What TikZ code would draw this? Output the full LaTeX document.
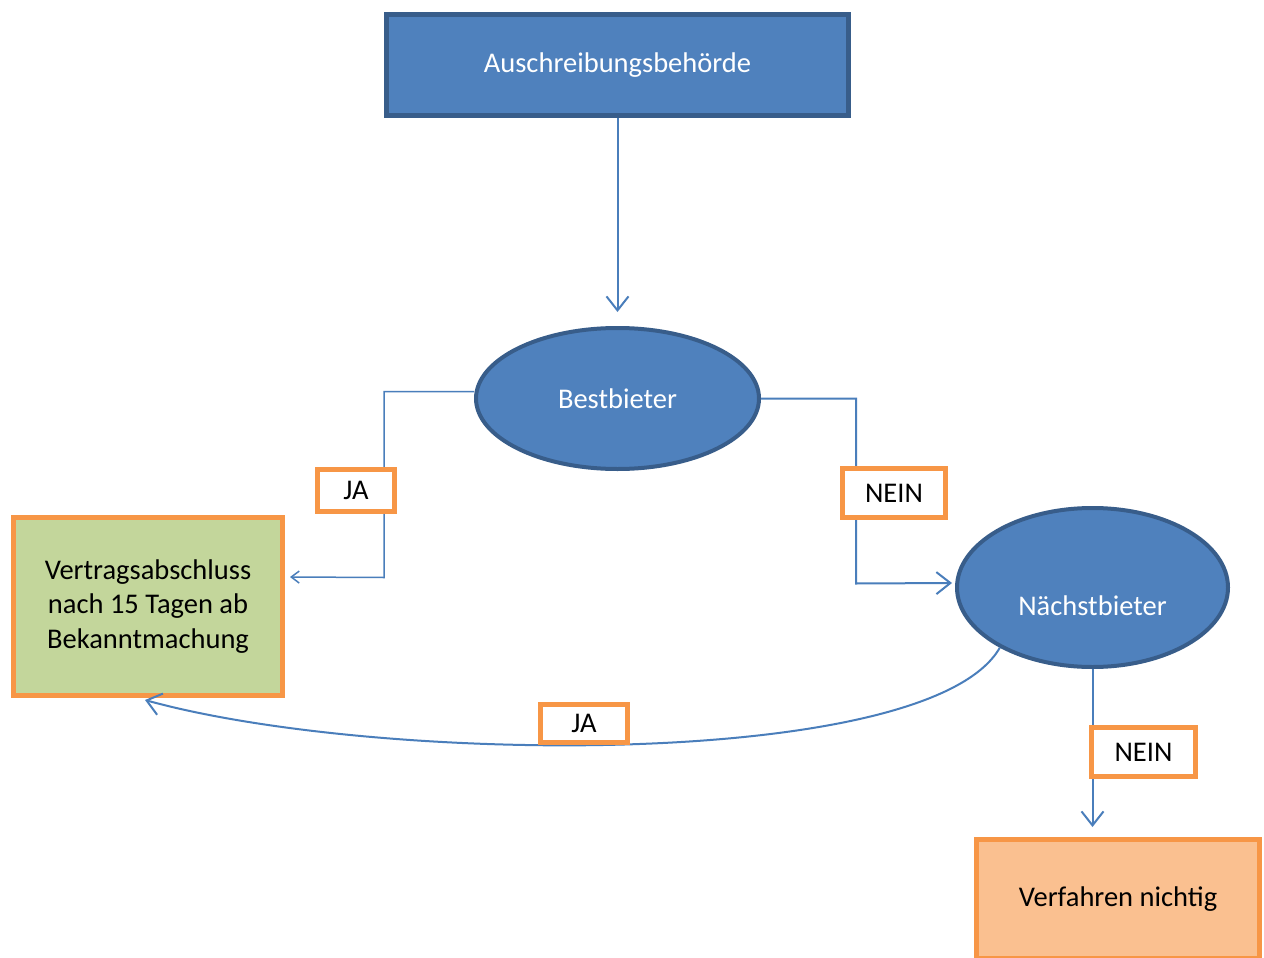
\documentclass[tikz,border=0pt]{standalone}
\usepackage{fontspec}
\setmainfont{Carlito}
\usetikzlibrary{arrows.meta,shapes.geometric}
\definecolor{boxblue}{HTML}{4F81BD}
\definecolor{edgeblue}{HTML}{385D8A}
\definecolor{linkblue}{HTML}{4A7EBB}
\definecolor{tagorange}{HTML}{F79646}
\definecolor{okgreen}{HTML}{C3D69B}
\definecolor{badpeach}{HTML}{FAC090}
\tikzset{
  txt/.style={font=\fontsize{28.5}{34.5}\selectfont, align=center, inner sep=0pt},
  bluebox/.style={txt, rectangle, fill=boxblue, draw=edgeblue, line width=5pt, text=white},
  blueoval/.style={txt, ellipse, fill=boxblue, draw=edgeblue, line width=4pt, text=white},
  resultbox/.style={txt, rectangle, draw=tagorange, line width=5pt, text=black},
  tagbox/.style={txt, rectangle, fill=white, draw=tagorange, line width=5pt, text=black},
  conn/.style={draw=linkblue, line width=2pt, -{Straight Barb[length=14pt,width=22pt,line width=2pt]}},
  thinconn/.style={draw=linkblue, line width=1.5pt, -{Straight Barb[length=8pt,width=12pt,line width=1.5pt]}}
}
\begin{document}
\begin{tikzpicture}[x=1pt,y=-1pt]
\useasboundingbox (0,0) rectangle (1264,958);
\fill[white] (0,0) rectangle (1264,958);

% shapes
\node[bluebox, minimum width=462pt, minimum height=101pt] (top) at (617.5,65) {Auschreibungsbehörde};
\node[blueoval, minimum width=283pt, minimum height=141pt] (best) at (617.5,398.5) {Bestbieter};
\node[blueoval, minimum width=271pt, minimum height=159pt] (nae) at (1092.5,587.5)
  {\raisebox{-28pt}[0pt][0pt]{Nächstbieter}};
\node[resultbox, fill=okgreen, minimum width=269pt, minimum height=178pt] (vert) at (148,606.5)
  {Vertragsabschluss\\nach 15 Tagen ab\\Bekanntmachung};
\node[resultbox, fill=badpeach, minimum width=283pt, minimum height=119pt] (verf) at (1118,899) {Verfahren nichtig};

% connectors
\draw[conn] (top.south) -- ([yshift=14pt]best.north);
\draw[thinconn] ([yshift=7pt]best.west) -- ++(-90,0) -- ++(0,186) -- ([xshift=5pt,yshift=29.5pt]vert.east);
\draw[conn] (best.east) -- ++(95,0) -- ++(0,185) -- ([xshift=-3pt,yshift=4.5pt]nae.west);
\draw[conn] (nae.213) .. controls (930,770) and (380,765) .. ([xshift=-3pt,yshift=-2pt]vert.south);
\draw[conn] (nae.south) -- ([yshift=10pt]nae.south |- verf.north);

% decision tags
\node[tagbox, minimum width=77pt, minimum height=42pt] (ja1) at (356,490.5) {JA};
\node[tagbox, minimum width=103pt, minimum height=49pt] (nein1) at (894,493) {NEIN};
\node[tagbox, minimum width=87pt, minimum height=38pt] (ja2) at (584,723.5) {JA};
\node[tagbox, minimum width=104pt, minimum height=49pt] (nein2) at (1143.5,752) {NEIN};
\end{tikzpicture}
\end{document}
